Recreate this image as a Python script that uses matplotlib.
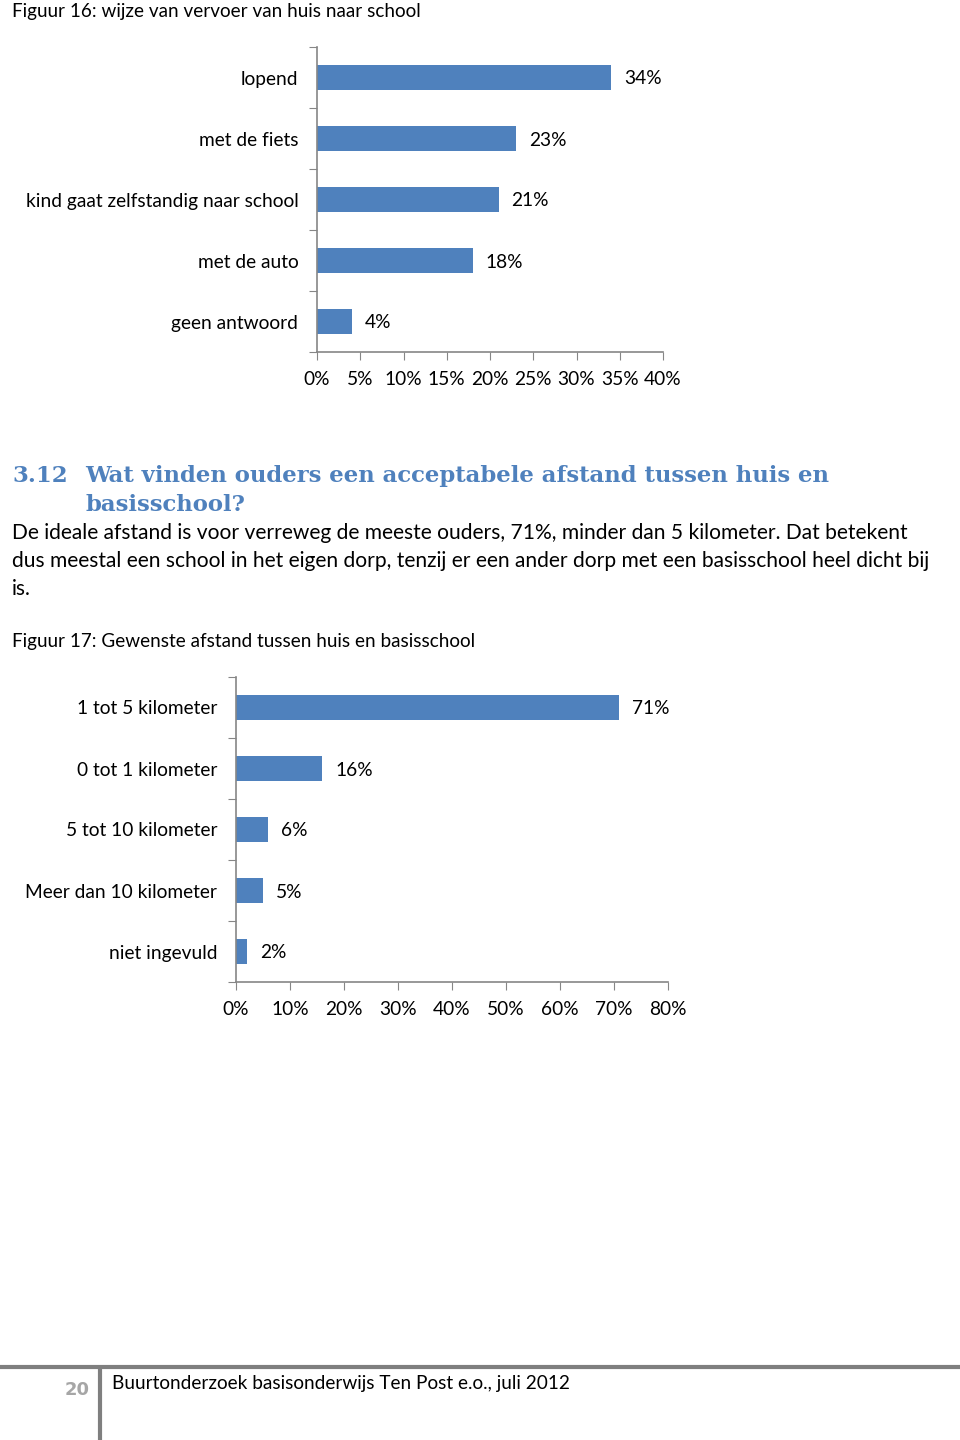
import numpy as np
import matplotlib.pyplot as plt

# data for the two bar charts
vervoer_labels = ['lopend', 'met de fiets', 'kind gaat zelfstandig naar school',
                  'met de auto', 'geen antwoord']
vervoer_pct = [34, 23, 21, 18, 4]
vervoer_ticks = [0, 5, 10, 15, 20, 25, 30, 35, 40]

afstand_labels = ['1 tot 5 kilometer', '0 tot 1 kilometer', '5 tot 10 kilometer',
                  'Meer dan 10 kilometer', 'niet ingevuld']
afstand_pct = [71, 16, 6, 5, 2]
afstand_ticks = [0, 10, 20, 30, 40, 50, 60, 70, 80]

W, H = 960, 1440
BLUE = '#4F81BD'
GREY = '#868686'
FONT = 'Lato'
plt.rcParams['font.family'] = [FONT, 'DejaVu Sans']

fig = plt.figure(figsize=(W / 100, H / 100), dpi=100)


def px_axes(left, top, right, bottom):
    # axes from pixel coordinates (origin top-left)
    return fig.add_axes([left / W, 1 - bottom / H, (right - left) / W, (bottom - top) / H])


def bar_chart(ax, labels, values, ticks, offset):
    y = np.arange(len(values))[::-1]
    ax.barh(y, values, height=0.4, color=BLUE)
    for yi, v in zip(y, values):
        ax.text(v + offset, yi, f'{v}%', va='center_baseline', ha='left',
                fontsize=13.8, color='black')
    ax.set_ylim(-0.5, len(values) - 0.5)
    ax.set_xlim(ticks[0], ticks[-1])
    ax.set_yticks(np.arange(-0.5, len(values)))
    ax.set_yticklabels([])
    ax.set_yticks(y, minor=True)
    ax.set_yticklabels(labels, minor=True, fontsize=13.8)
    ax.tick_params(axis='y', which='minor', length=0, pad=13.5)
    ax.tick_params(axis='y', which='major', length=6, color=GREY, direction='out')
    ax.set_xticks(ticks)
    ax.set_xticklabels([f'{t}%' for t in ticks], fontsize=13.8)
    ax.tick_params(axis='x', length=6, color=GREY, direction='out', pad=8)
    for s in ['top', 'right']:
        ax.spines[s].set_visible(False)
    for s in ['left', 'bottom']:
        ax.spines[s].set_color(GREY)
        ax.spines[s].set_linewidth(1.2)


ax1 = px_axes(317, 47, 663, 352)
bar_chart(ax1, vervoer_labels, vervoer_pct, vervoer_ticks, 1.5)

ax2 = px_axes(236, 677, 668, 982)
bar_chart(ax2, afstand_labels, afstand_pct, afstand_ticks, 2.4)

# page text
fig.text(12 / W, 1 - 12 / H, 'Figuur 16: wijze van vervoer van huis naar school',
         fontsize=13.6, va='center', ha='left')
head = dict(fontsize=16.4, fontweight='bold', color=BLUE, family='DejaVu Serif',
            va='center', ha='left')
fig.text(12 / W, 1 - 476 / H, '3.12', **head)
fig.text(85 / W, 1 - 476 / H, 'Wat vinden ouders een acceptabele afstand tussen huis en', **head)
fig.text(85 / W, 1 - 505 / H, 'basisschool?', **head)
body = ['De ideale afstand is voor verreweg de meeste ouders, 71%, minder dan 5 kilometer. Dat betekent',
        'dus meestal een school in het eigen dorp, tenzij er een ander dorp met een basisschool heel dicht bij',
        'is.']
for i, line in enumerate(body):
    fig.text(12 / W, 1 - (533 + 28 * i) / H, line, fontsize=15.1, va='center', ha='left')
fig.text(12 / W, 1 - 642 / H, 'Figuur 17: Gewenste afstand tussen huis en basisschool',
         fontsize=13.6, va='center', ha='left')

# footer
fig.add_artist(plt.Line2D([0, 1], [1 - 1367 / H] * 2, color='#7F7F7F', lw=3))
fig.add_artist(plt.Line2D([100 / W] * 2, [0, 1 - 1368 / H], color='#7F7F7F', lw=3))
fig.text(90 / W, 1 - 1390 / H, '20', fontsize=13, fontweight='bold', color='#A6A6A6',
         family='DejaVu Sans', va='center', ha='right')
fig.text(112 / W, 1 - 1384 / H, 'Buurtonderzoek basisonderwijs Ten Post e.o., juli 2012',
         fontsize=13.7, va='center', ha='left')

fig.savefig('out.png', dpi=100)
